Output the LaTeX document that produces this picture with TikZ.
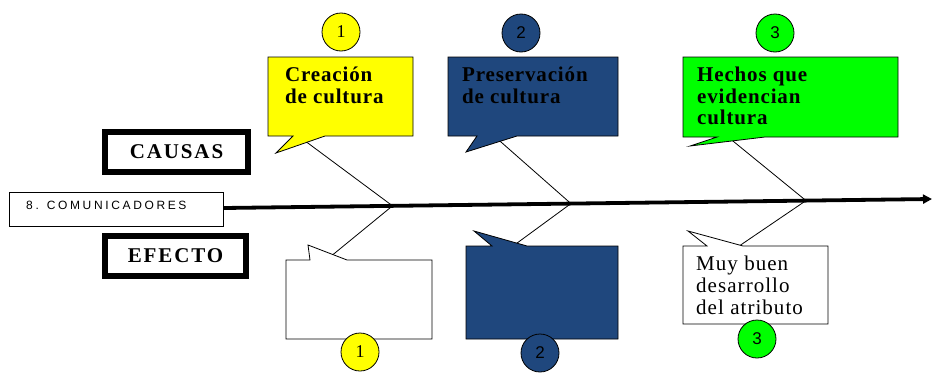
\documentclass[tikz,border=0pt]{standalone}
\usepackage{fontspec}
\setmainfont{Liberation Serif}
\setsansfont{Liberation Sans}
\newfontfamily\calloutfont{Liberation Serif}[LetterSpace=4]
\newfontfamily\labelfont{Liberation Serif}[LetterSpace=9]
\newfontfamily\effectfont{Liberation Serif}[LetterSpace=5]
\newfontfamily\comfont{Liberation Sans}[LetterSpace=22]
\usetikzlibrary{calc,arrows.meta}
\definecolor{navy}{RGB}{31,71,125}
\definecolor{brightgreen}{RGB}{0,255,0}
\definecolor{brightyellow}{RGB}{255,255,0}
\begin{document}
\begin{tikzpicture}[x=1pt,y=-1pt,
  callout/.style={draw=black, line width=0.8pt},
  numcircle/.style={circle, draw=black, line width=0.8pt, minimum size=38pt, inner sep=0pt, font=\fontsize{18}{18}\selectfont},
  bone/.style={draw=black, line width=0.8pt},
  boxtext/.style={anchor=north west, align=left, inner sep=0pt, font=\calloutfont\bfseries\fontsize{21}{21.5}\selectfont},
  plaintext/.style={anchor=north west, align=left, inner sep=0pt, font=\effectfont\fontsize{21}{22}\selectfont},
  labelbox/.style={draw=black, line width=6pt, inner sep=0pt, font=\labelfont\bfseries\fontsize{21}{21}\selectfont},
  spine/.style={draw=black, line width=3.8pt, -{Triangle[length=9pt,width=9pt]}}]
\useasboundingbox (0,0) rectangle (933,372);
\fill[white] (0,0) rectangle (933,372);

% spine
\node[draw=black, line width=0.8pt, minimum width=214pt, minimum height=34pt, inner sep=0pt] (com) at (116,209) {};
\node[anchor=base west, inner sep=0pt, font=\comfont\fontsize{12}{12}\selectfont] (comtext) at (26,209.5) {8. COMUNICADORES};
\coordinate (spinestart) at (224,208);
\coordinate (spineend) at (932,199);
\draw[spine] (spinestart) -- (spineend);
\coordinate (j1) at ($(spinestart)!0.238!(spineend)$);
\coordinate (j2) at ($(spinestart)!0.49!(spineend)$);
\coordinate (j3) at ($(spinestart)!0.822!(spineend)$);

% labels
\node[labelbox, minimum width=143pt, minimum height=40pt] (causas) at (176.5,152) {CAUSAS};
\node[labelbox, minimum width=141pt, minimum height=40pt] (efecto) at (175.5,256) {EFECTO};

% top callouts
\coordinate (ya) at (325,136); \coordinate (yt) at (276,153);
\coordinate (ys) at ($(ya)!0.37!(yt)$);
\coordinate (ba) at (517,136); \coordinate (bt) at (466,152);
\coordinate (bs) at ($(ba)!0.33!(bt)$);
\coordinate (ga) at (765,137); \coordinate (gt) at (690,146);
\coordinate (gs) at ($(ga)!0.43!(gt)$);
\draw[bone] (ys) -- (j1);
\draw[bone] (bs) -- (j2);
\draw[bone] (gs) -- (j3);

\filldraw[callout, fill=brightyellow] (268,57) -- (413,57) -- (413,136) -- (ya) -- (yt) -- (293,136) -- (268,136) -- cycle;
\filldraw[callout, fill=navy] (448,57) -- (618,57) -- (618,136) -- (ba) -- (bt) -- (477,136) -- (448,136) -- cycle;
\filldraw[callout, fill=brightgreen] (683,57) -- (898,57) -- (898,137) -- (ga) -- (gt) -- (717,137) -- (683,137) -- cycle;

\node[boxtext] (t1) at (285,67) {Creación\\de cultura};
\node[boxtext] (t2) at (462,67) {Preservación\\de cultura};
\node[boxtext] (t3) at (697,67) {Hechos que\\evidencian\\cultura};

% bottom callouts
\coordinate (wt) at (308,245); \coordinate (wb) at (347,260);
\coordinate (ws) at ($(wt)!0.64!(wb)$);
\coordinate (nt) at (474,231); \coordinate (nb) at (527,246);
\coordinate (ns) at ($(nt)!0.81!(nb)$);
\coordinate (mt) at (688,231); \coordinate (mb) at (743,246);
\coordinate (ms) at ($(mt)!0.95!(mb)$);
\draw[bone] (j1) -- (ws);
\draw[bone] (j2) -- (ns);
\draw[bone] (j3) -- (ms);

\filldraw[callout, fill=white] (286,260) -- (310,260) -- (wt) -- (wb) -- (432,260) -- (432,339) -- (286,339) -- cycle;
\filldraw[callout, fill=navy] (466,246) -- (492,246) -- (nt) -- (nb) -- (618,246) -- (618,339) -- (466,339) -- cycle;
\filldraw[callout, fill=white] (683,246) -- (707,246) -- (mt) -- (mb) -- (828,246) -- (828,324) -- (683,324) -- cycle;

\node[plaintext] (t4) at (696,256) {Muy buen\\desarrollo\\del atributo};

% number circles
\node[numcircle, fill=brightyellow] (c1) at (341,32) {1};
\node[numcircle, fill=navy, font=\sffamily\fontsize{17}{17}\selectfont] (c2) at (521,33) {2};
\node[numcircle, fill=brightgreen, font=\sffamily\fontsize{17}{17}\selectfont] (c3) at (775,33) {3};
\node[numcircle, fill=brightyellow] (d1) at (360,352) {1};
\node[numcircle, fill=navy, font=\sffamily\fontsize{17}{17}\selectfont] (d2) at (540,353) {2};
\node[numcircle, fill=brightgreen, font=\sffamily\fontsize{17}{17}\selectfont] (d3) at (757,339) {3};
\end{tikzpicture}
\end{document}
